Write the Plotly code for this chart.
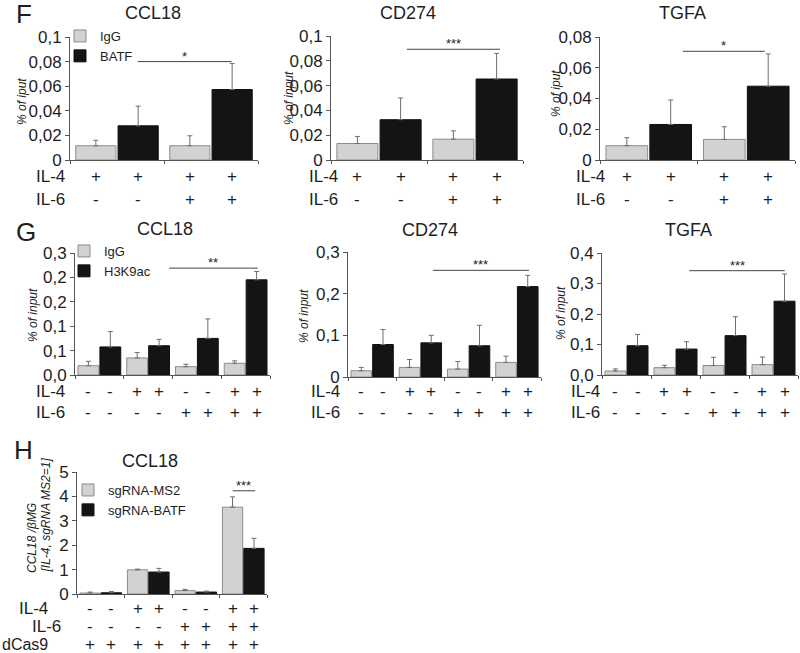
import plotly.graph_objects as go

W, H = 800, 653


def px_x(x):
    return x / W


def px_y(y):
    return 1 - y / H


# ---- data ----
groups_f = ["IL-4", "IL-4 + IL-6"]
groups_gh = ["ctrl", "IL-4", "IL-6", "IL-4 + IL-6"]

f_il4 = ["+", "+", "+", "+"]
f_il6 = ["-", "-", "+", "+"]
gh_il4 = ["-", "-", "+", "+", "-", "-", "+", "+"]
gh_il6 = ["-", "-", "-", "-", "+", "+", "+", "+"]
h_dcas9 = ["+", "+", "+", "+", "+", "+", "+", "+"]

# F  ChIP BATF (% of input)
f_ccl18_igg = [0.0116, 0.0116]
f_ccl18_igg_err = [0.0044, 0.0081]
f_ccl18_batf = [0.0278, 0.0573]
f_ccl18_batf_err = [0.0160, 0.0211]

f_cd274_igg = [0.0133, 0.0168]
f_cd274_igg_err = [0.0057, 0.0067]
f_cd274_batf = [0.0325, 0.0653]
f_cd274_batf_err = [0.0175, 0.0207]

f_tgfa_igg = [0.0093, 0.0134]
f_tgfa_igg_err = [0.0052, 0.0082]
f_tgfa_batf = [0.0231, 0.0480]
f_tgfa_batf_err = [0.0159, 0.0210]

# G  ChIP H3K9ac (% of input)
g_ccl18_igg = [0.019, 0.035, 0.017, 0.024]
g_ccl18_igg_err = [0.009, 0.011, 0.005, 0.005]
g_ccl18_h3 = [0.0575, 0.060, 0.075, 0.195]
g_ccl18_h3_err = [0.0315, 0.013, 0.040, 0.017]

g_cd274_igg = [0.015, 0.023, 0.019, 0.035]
g_cd274_igg_err = [0.008, 0.019, 0.018, 0.015]
g_cd274_h3 = [0.078, 0.082, 0.075, 0.217]
g_cd274_h3_err = [0.036, 0.018, 0.049, 0.027]

g_tgfa_igg = [0.013, 0.024, 0.031, 0.034]
g_tgfa_igg_err = [0.007, 0.008, 0.027, 0.025]
g_tgfa_h3 = [0.096, 0.085, 0.129, 0.242]
g_tgfa_h3_err = [0.037, 0.024, 0.062, 0.089]

# H  CCL18 expression with dCas9
h_ms2 = [0.04, 0.99, 0.14, 3.56]
h_ms2_err = [0.04, 0.03, 0.05, 0.42]
h_batf = [0.05, 0.90, 0.08, 1.87]
h_batf_err = [0.05, 0.15, 0.04, 0.41]

# tick labels
ticks_f01 = [0, 0.02, 0.04, 0.06, 0.08, 0.1]
ticktext_f01 = ["0", "0,02", "0,04", "0,06", "0,08", "0,1"]
ticks_f008 = [0, 0.02, 0.04, 0.06, 0.08]
ticktext_f008 = ["0", "0,02", "0,04", "0,06", "0,08"]
ticks_g_ccl18 = [0, 0.05, 0.1, 0.15, 0.2, 0.25]
ticktext_g_ccl18 = ["0,0", "0,1", "0,1", "0,2", "0,2", "0,3"]
ticks_g_cd274 = [0, 0.1, 0.2, 0.3]
ticktext_g_cd274 = ["0", "0,1", "0,2", "0,3"]
ticks_g_tgfa = [0, 0.1, 0.2, 0.3, 0.4]
ticktext_g_tgfa = ["0,0", "0,1", "0,2", "0,3", "0,4"]
ticks_h = [0, 1, 2, 3, 4, 5]
ticktext_h = ["0", "1", "2", "3", "4", "5"]

# ---- style ----
FONT = "Liberation Sans, Arial, sans-serif"
TXT = "#1e1e1e"
AX = "#555555"
GREY = "#d2d2d2"
BLACK = "#141414"
BARGAP = 0.1
OFF = (1 - BARGAP) / 4
ROWFONT = 17

panels = [
    dict(groups=groups_f, a=f_ccl18_igg, ae=f_ccl18_igg_err, b=f_ccl18_batf, be=f_ccl18_batf_err,
         names=("IgG", "BATF"), legend="legend", box=(70, 258, 37, 160), rng=0.1,
         tv=ticks_f01, tt=ticktext_f01, title="CCL18", tpos=(153, 13), ytitle="% of iput", ypos=(22, 102),
         sig=(0.080, 0.22, 1.22, "*"),
         rows=[("IL-4", f_il4, 176, 67), ("IL-6", f_il6, 200, 67)]),
    dict(groups=groups_f, a=f_cd274_igg, ae=f_cd274_igg_err, b=f_cd274_batf, be=f_cd274_batf_err,
         names=("IgG", "BATF"), legend=None, box=(331, 523, 36, 160), rng=0.1,
         tv=ticks_f01, tt=ticktext_f01, title="CD274", tpos=(408, 13), ytitle="% of input", ypos=(289, 98),
         sig=(0.0893, 0.29, 1.26, "***"),
         rows=[("IL-4", f_il4, 176, 340), ("IL-6", f_il6, 200, 340)]),
    dict(groups=groups_f, a=f_tgfa_igg, ae=f_tgfa_igg_err, b=f_tgfa_batf, be=f_tgfa_batf_err,
         names=("IgG", "BATF"), legend=None, box=(600, 795, 37, 160), rng=0.08,
         tv=ticks_f008, tt=ticktext_f008, title="TGFA", tpos=(682, 13), ytitle="% of iput", ypos=(556, 94),
         sig=(0.0707, 0.35, 1.19, "*"),
         rows=[("IL-4", f_il4, 176, 607), ("IL-6", f_il6, 200, 607)]),
    dict(groups=groups_gh, a=g_ccl18_igg, ae=g_ccl18_igg_err, b=g_ccl18_h3, be=g_ccl18_h3_err,
         names=("IgG", "H3K9ac"), legend="legend2", box=(75, 270, 253, 375), rng=0.25,
         tv=ticks_g_ccl18, tt=ticktext_g_ccl18, title="CCL18", tpos=(165, 229), ytitle="% of input", ypos=(33, 315),
         sig=(0.219, 1.43, 3.25, "**"),
         rows=[("IL-4", gh_il4, 391, 67), ("IL-6", gh_il6, 412, 67)]),
    dict(groups=groups_gh, a=g_cd274_igg, ae=g_cd274_igg_err, b=g_cd274_h3, be=g_cd274_h3_err,
         names=("IgG", "H3K9ac"), legend=None, box=(348, 541, 252, 377), rng=0.3,
         tv=ticks_g_cd274, tt=ticktext_g_cd274, title="CD274", tpos=(430, 230), ytitle="% of input", ypos=(304, 316),
         sig=(0.256, 1.26, 3.25, "***"),
         rows=[("IL-4", gh_il4, 391, 342), ("IL-6", gh_il6, 412, 342)]),
    dict(groups=groups_gh, a=g_tgfa_igg, ae=g_tgfa_igg_err, b=g_tgfa_h3, be=g_tgfa_h3_err,
         names=("IgG", "H3K9ac"), legend=None, box=(602, 798, 253, 375), rng=0.4,
         tv=ticks_g_tgfa, tt=ticktext_g_tgfa, title="TGFA", tpos=(688, 230), ytitle="% of input", ypos=(561, 313),
         sig=(0.342, 1.28, 3.23, "***"),
         rows=[("IL-4", gh_il4, 391, 602), ("IL-6", gh_il6, 412, 602)]),
    dict(groups=groups_gh, a=h_ms2, ae=h_ms2_err, b=h_batf, be=h_batf_err,
         names=("sgRNA-MS2", "sgRNA-BATF"), legend="legend3", box=(77, 267, 472, 594), rng=5,
         tv=ticks_h, tt=ticktext_h, title="CCL18", tpos=(150, 461), ytitle=None, ypos=None,
         sig=(4.23, 2.78, 3.25, "***"),
         rows=[("IL-4", gh_il4, 608, 50), ("IL-6", gh_il6, 626, 63)]),
]

fig = go.Figure()
annotations = []
shapes = []

for k, p in enumerate(panels, start=1):
    xa = "x" if k == 1 else f"x{k}"
    ya = "y" if k == 1 else f"y{k}"
    show = p["legend"] is not None
    for vals, errs, name, col, line in [(p["a"], p["ae"], p["names"][0], GREY, "#8c8c8c"),
                                        (p["b"], p["be"], p["names"][1], BLACK, "#111111")]:
        fig.add_trace(go.Bar(
            x=p["groups"], y=vals, name=name, xaxis=xa, yaxis=ya,
            marker=dict(color=col, line=dict(color=line, width=1)),
            error_y=dict(type="data", array=errs, arrayminus=[0] * len(errs), symmetric=False,
                         color="#6e6e6e", thickness=1, width=2.5),
            showlegend=show, legend=p["legend"] if show else "legend",
        ))

    x0, x1, yt, yb = p["box"]
    n = len(p["groups"])
    fig.layout[("xaxis" if k == 1 else f"xaxis{k}")] = dict(
        domain=[px_x(x0), px_x(x1)], anchor=ya, type="category",
        categoryorder="array", categoryarray=p["groups"], range=[-0.5, n - 0.5],
        showticklabels=False, ticks="outside", tickson="boundaries", ticklen=3,
        tickcolor=AX, showline=True, linecolor=AX, linewidth=1, showgrid=False, zeroline=False)
    fig.layout[("yaxis" if k == 1 else f"yaxis{k}")] = dict(
        domain=[px_y(yb), px_y(yt)], anchor=xa, range=[0, p["rng"]],
        tickvals=p["tv"], ticktext=p["tt"], ticks="outside", ticklen=4, tickcolor=AX,
        showline=True, linecolor=AX, linewidth=1, showgrid=False, zeroline=False,
        tickfont=dict(size=17, color=TXT, family=FONT))

    # title
    annotations.append(dict(text=p["title"], x=px_x(p["tpos"][0]), y=px_y(p["tpos"][1]),
                            xref="paper", yref="paper", showarrow=False,
                            font=dict(size=18, color=TXT), xanchor="center", yanchor="middle"))
    # y title
    if p["ytitle"]:
        annotations.append(dict(text=f"<i>{p['ytitle']}</i>", x=px_x(p["ypos"][0]), y=px_y(p["ypos"][1]),
                                xref="paper", yref="paper", showarrow=False, textangle=-90,
                                font=dict(size=12, color=TXT), xanchor="center", yanchor="middle"))
    # significance bar
    sy, sx0, sx1, stars = p["sig"]
    shapes.append(dict(type="line", xref=xa, yref=ya, x0=sx0, x1=sx1, y0=sy, y1=sy,
                       line=dict(color="#444444", width=1)))
    annotations.append(dict(text=stars, x=(sx0 + sx1) / 2, y=sy, xref=xa, yref=ya, showarrow=False,
                            font=dict(size=13, color=TXT), xanchor="center", yanchor="bottom", yshift=-4))
    # condition rows
    for label, signs, ypix, xr in p["rows"]:
        annotations.append(dict(text=label, x=px_x(xr), y=px_y(ypix), xref="paper", yref="paper",
                                showarrow=False, font=dict(size=ROWFONT, color=TXT),
                                xanchor="right", yanchor="middle"))
        for i, s in enumerate(signs):
            gx = i // 2 + (-OFF if i % 2 == 0 else OFF)
            annotations.append(dict(text=s, x=gx, y=px_y(ypix), xref=xa, yref="paper",
                                    showarrow=False, font=dict(size=ROWFONT, color=TXT),
                                    xanchor="center", yanchor="middle"))

# dCas9 row of panel H (label starts at the left edge)
annotations.append(dict(text="dCas9", x=0, y=px_y(644), xref="paper", yref="paper",
                        showarrow=False, font=dict(size=16, color=TXT), xanchor="left", yanchor="middle"))
for i, s in enumerate(h_dcas9):
    gx = i // 2 + (-OFF if i % 2 == 0 else OFF)
    annotations.append(dict(text=s, x=gx, y=px_y(644), xref="x7", yref="paper", showarrow=False,
                            font=dict(size=ROWFONT, color=TXT), xanchor="center", yanchor="middle"))

# H y-axis title (two lines, left aligned)
annotations.append(dict(text="<i>CCL18 /βMG</i>", x=px_x(32), y=px_y(575), xref="paper", yref="paper",
                        showarrow=False, textangle=-90, font=dict(size=12, color=TXT),
                        xanchor="center", yanchor="bottom"))
annotations.append(dict(text="<i>[IL-4, sgRNA MS2=1]</i>", x=px_x(45), y=px_y(575), xref="paper",
                        yref="paper", showarrow=False, textangle=-90, font=dict(size=12, color=TXT),
                        xanchor="center", yanchor="bottom"))

# panel letters
for letter, lx, ly in [("F", 24, 14), ("G", 26, 232), ("H", 23, 450)]:
    annotations.append(dict(text=letter, x=px_x(lx), y=px_y(ly), xref="paper", yref="paper",
                            showarrow=False, font=dict(size=26, color=TXT),
                            xanchor="center", yanchor="middle"))

legend_style = dict(font=dict(size=13, color=TXT, family=FONT), bgcolor="rgba(0,0,0,0)",
                    xanchor="left", yanchor="top", tracegroupgap=0, itemwidth=30)

fig.update_layout(
    width=W, height=H, margin=dict(l=0, r=0, t=0, b=0, autoexpand=False),
    paper_bgcolor="white", plot_bgcolor="white",
    font=dict(family=FONT, color=TXT),
    barmode="group", bargap=BARGAP, bargroupgap=0.05,
    annotations=annotations, shapes=shapes,
    legend=dict(x=px_x(60), y=px_y(21), **legend_style),
    legend2=dict(x=px_x(64), y=px_y(236), **legend_style),
    legend3=dict(x=px_x(68), y=px_y(475), **legend_style),
)

# the page body keeps its default 8px margin otherwise
fig.write_html("out.html", config={"displayModeBar": False},
               post_script="document.body.style.margin='0';")
